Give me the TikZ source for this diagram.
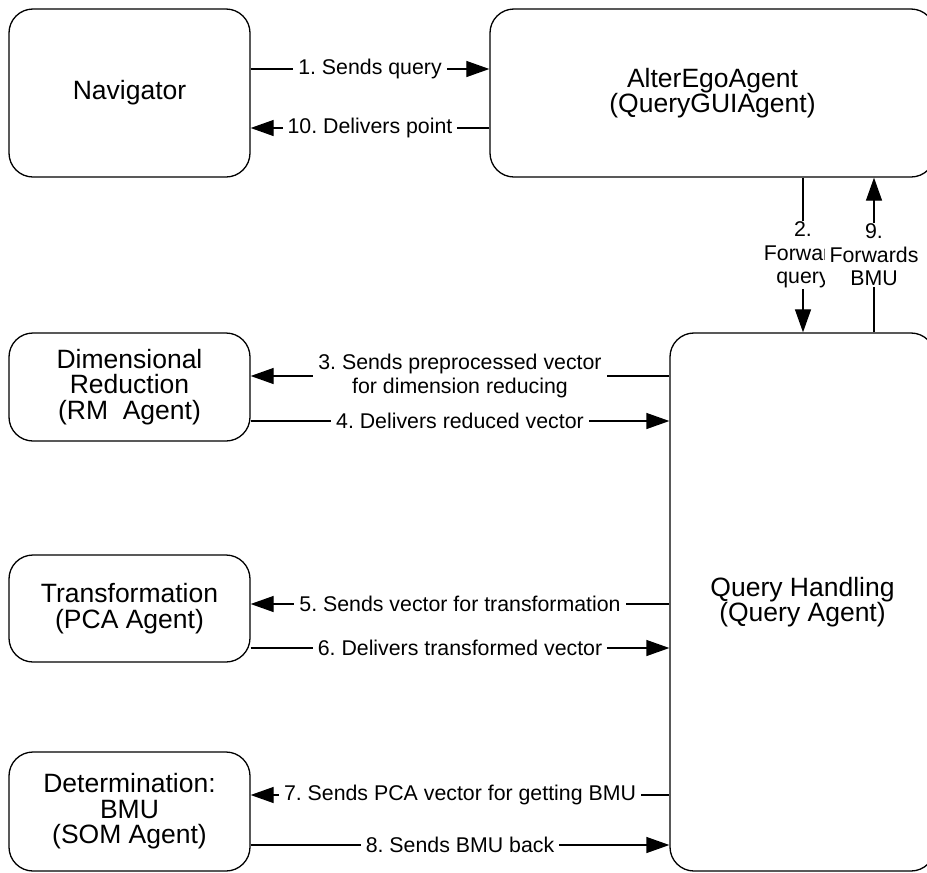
\documentclass[tikz,border=0pt]{standalone}
\usepackage{fontspec}
\setmainfont{Liberation Sans}
\usetikzlibrary{arrows.meta,positioning}
\frenchspacing

\begin{document}
\begin{tikzpicture}[x=0.5bp,y=-0.5bp,
		box/.style={draw,rounded corners=12bp,line width=0.65bp,align=center,
			font={\fontsize{13.3}{12.8}\selectfont}},
		lbl/.style={fill=white,inner xsep=2.5bp,inner ysep=0.5bp,align=center,
			font={\fontsize{10.7}{11.8}\selectfont}},
		e/.style={-{Triangle[length=11.5bp,width=8bp]},line width=0.65bp}
		]
		\useasboundingbox (0,0) rectangle (927,873);
		\clip (0,0) rectangle (927,873);

		% agents
		\node[box,minimum width=120.5bp,minimum height=84bp] (nav) at (129.5,93) {Navigator};
		\node[box,minimum width=222.5bp,minimum height=84bp] (alter) at (712.5,93) {AlterEgoAgent\\(QueryGUIAgent)};
		\node[box,minimum width=120.5bp,minimum height=54bp] (dim) at (129.5,387) {Dimensional\\Reduction\\(RM\ \ Agent)};
		\node[box,minimum width=120.5bp,minimum height=53.5bp] (trans) at (129.5,608.5) {Transformation\\(PCA Agent)};
		\node[box,minimum width=120.5bp,minimum height=59.5bp] (det) at (129.5,811.5) {Determination:\\BMU\\(SOM Agent)};
		\node[box,minimum width=132.5bp,minimum height=269bp] (query) at (802.5,602) {Query Handling\\(Query Agent)};

		% messages
		\draw[e] (nav.east |- 0,69) -- node[lbl]{1. Sends query} (alter.west |- 0,69);
		\draw[e] (alter.west |- 0,128) -- node[lbl]{10. Delivers point} (nav.east |- 0,128);
		\draw[e] (alter.south -| 803,0) -- node[lbl]{2.\\Forward\\query} (query.north -| 803,0);
		\draw[e] (query.north -| 874,0) -- node[lbl]{9.\\Forwards\\BMU} (alter.south -| 874,0);
		\draw[e] (query.west |- 0,376) -- node[lbl]{3. Sends preprocessed vector\\for dimension reducing} (dim.east |- 0,376);
		\draw[e] (dim.east |- 0,421) -- node[lbl]{4. Delivers reduced vector} (query.west |- 0,421);
		\draw[e] (query.west |- 0,604) -- node[lbl]{5. Sends vector for transformation} (trans.east |- 0,604);
		\draw[e] (trans.east |- 0,648) -- node[lbl]{6. Delivers transformed vector} (query.west |- 0,648);
		\draw[e] (query.west |- 0,795) -- node[lbl]{7. Sends PCA vector for getting BMU} (det.east |- 0,795);
		\draw[e] (det.east |- 0,845) -- node[lbl]{8. Sends BMU back} (query.west |- 0,845);
	\end{tikzpicture}
\end{document}
